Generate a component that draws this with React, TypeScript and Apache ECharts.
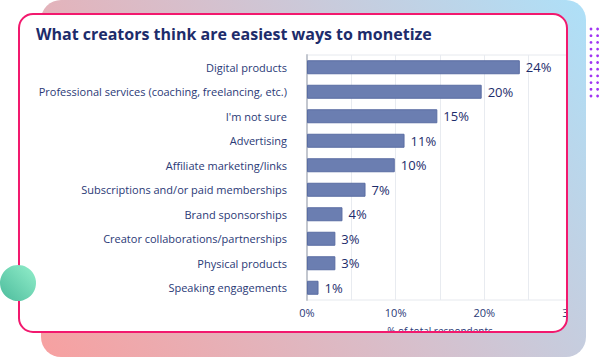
import React, { useEffect, useRef } from "react";
import * as echarts from "echarts";

const categories = [
  "Digital products",
  "Professional services (coaching, freelancing, etc.)",
  "I'm not sure",
  "Advertising",
  "Affiliate marketing/links",
  "Subscriptions and/or paid memberships",
  "Brand sponsorships",
  "Creator collaborations/partnerships",
  "Physical products",
  "Speaking engagements",
];
const values = [24.0, 19.7, 14.7, 11.0, 9.9, 6.6, 4.0, 3.2, 3.2, 1.3];
const titleText = "What creators think are easiest ways to monetize";
const axisName = "% of total respondents";

const FONT = "'Open Sans', 'Noto Sans', sans-serif";
const NAVY = "#1d2c6b";
const LABEL = "#2a3976";

export default function App() {
  const ref = useRef<HTMLDivElement>(null);
  useEffect(() => {
    if (!ref.current) return;
    const chart = echarts.init(ref.current, undefined, { renderer: "svg" });
    const bg = () =>
      new echarts.graphic.LinearGradient(
        41,
        357,
        586,
        0,
        [
          { offset: 0, color: "#f7a0a0" },
          { offset: 0.5, color: "#d6c0cd" },
          { offset: 1, color: "#aee0f8" },
        ],
        true
      );
    const dots: any[] = [];
    for (let c = 0; c < 2; c++) {
      for (let r = 0; r < 11; r++) {
        dots.push({
          type: "circle",
          z: 70,
          silent: true,
          shape: { cx: 591 + c * 6.6, cy: 29 + r * 6.7, r: 1.4 },
          style: { fill: "#a034f2" },
        });
      }
    }
    chart.setOption({
      animation: false,
      title: {
        text: titleText,
        left: 31,
        top: 21,
        textStyle: { fontFamily: FONT, fontWeight: "bold", fontSize: 16, color: NAVY },
      },
      grid: {
        left: 307,
        right: 27,
        top: 55,
        bottom: 57,
        show: true,
        borderColor: "#e6e9ee",
        borderWidth: 1,
        containLabel: false,
      },
      xAxis: {
        type: "value",
        min: 0,
        max: 30,
        interval: 5,
        name: axisName,
        nameLocation: "middle",
        nameGap: 26,
        nameTextStyle: { fontFamily: FONT, fontSize: 10, color: LABEL },
        axisLine: { show: false },
        axisTick: { show: false },
        splitLine: { show: true, lineStyle: { color: "#e8ebf0", width: 1 } },
        axisLabel: {
          showMaxLabel: true,
          margin: 7,
          fontFamily: FONT,
          fontSize: 11,
          color: LABEL,
          formatter: (v: number) => (v % 10 === 0 ? v + "%" : ""),
        },
      },
      yAxis: {
        type: "category",
        inverse: true,
        data: categories,
        offset: 13,
        axisLine: { show: true, lineStyle: { color: "#c3c7cf", width: 2 } },
        axisTick: { show: false },
        axisLabel: { margin: 7, fontFamily: FONT, fontSize: 11, color: LABEL },
      },
      series: [
        {
          type: "bar",
          data: values,
          barWidth: 14,
          itemStyle: { color: "#6b7eb1", borderColor: "#5a6da3", borderWidth: 1 },
          label: {
            show: true,
            position: "right",
            distance: 6,
            fontFamily: FONT,
            fontSize: 13,
            color: NAVY,
            formatter: (p: any) => Math.round(p.value) + "%",
          },
        },
      ],
      graphic: [
        {
          type: "rect",
          z: -10,
          silent: true,
          shape: { x: 41, y: 0, width: 545, height: 357, r: 20 },
          style: { fill: bg() },
        },
        {
          type: "rect",
          z: -5,
          silent: true,
          shape: { x: 19, y: 14, width: 548, height: 318, r: 14 },
          style: { fill: "#ffffff" },
        },
        {
          type: "rect",
          z: 50,
          silent: true,
          shape: { x: 567, y: 30, width: 19, height: 300 },
          style: { fill: bg() },
        },
        {
          type: "rect",
          z: 50,
          silent: true,
          shape: { x: 300, y: 332, width: 266, height: 20 },
          style: { fill: bg() },
        },
        {
          type: "rect",
          z: 60,
          silent: true,
          shape: { x: 19, y: 14, width: 548, height: 318, r: 14 },
          style: { fill: "none", stroke: "#f2196e", lineWidth: 2 },
        },
        {
          type: "circle",
          z: 70,
          silent: true,
          shape: { cx: 18, cy: 283, r: 18 },
          style: {
            fill: new echarts.graphic.LinearGradient(0, 1, 1, 0, [
              { offset: 0, color: "#4cbb9c" },
              { offset: 1, color: "#93efcb" },
            ]),
          },
        },
        ...dots,
      ],
    });
    return () => chart.dispose();
  }, []);
  return (
    <div
      ref={ref}
      style={{ position: "fixed", left: 0, top: 0, width: 600, height: 357, background: "#ffffff" }}
    />
  );
}
